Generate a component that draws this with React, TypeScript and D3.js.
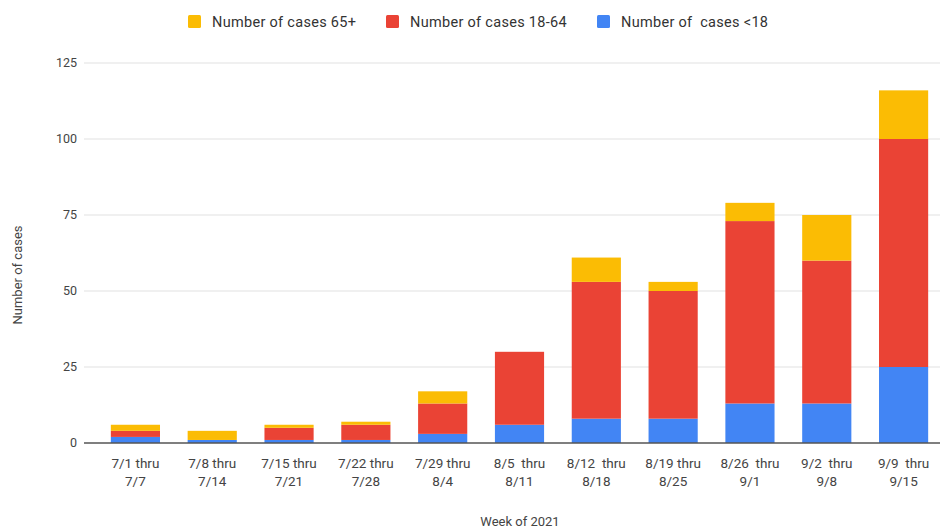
import React, { useEffect, useRef } from 'react';
import * as d3 from 'd3';

const weeks = ['7/1 thru|7/7', '7/8 thru|7/14', '7/15 thru|7/21', '7/22 thru|7/28', '7/29 thru|8/4',
    '8/5  thru|8/11', '8/12  thru|8/18', '8/19 thru|8/25', '8/26  thru|9/1', '9/2  thru|9/8', '9/9  thru|9/15'];
const under18 = [2, 1, 1, 1, 3, 6, 8, 8, 13, 13, 25];
const adults = [2, 0, 4, 5, 10, 24, 45, 42, 60, 47, 75];
const seniors = [2, 3, 1, 1, 4, 0, 8, 3, 6, 15, 16];
const yTicks = [0, 25, 50, 75, 100, 125];

const seriesKeys = ['under18', 'adults', 'seniors'];
const seriesColors = { under18: '#4285f4', adults: '#ea4335', seniors: '#fbbc04' };
const legendItems = [
    { key: 'seniors', label: 'Number of cases 65+', x: 188 },
    { key: 'adults', label: 'Number of cases 18-64', x: 386 },
    { key: 'under18', label: 'Number of  cases <18', x: 597 },
];

const width = 942;
const height = 531;
const font = 'Roboto, Arial, sans-serif';

const App = () => {
    const ref = useRef(null);

    useEffect(() => {
        document.body.style.margin = '0';
        const svg = d3.select(ref.current);
        svg.selectAll('*').remove();

        const rows = weeks.map((w, i) => ({ week: w, under18: under18[i], adults: adults[i], seniors: seniors[i] }));

        const x = d3.scaleBand().domain(weeks).range([97, 942]).paddingInner(0.36).paddingOuter(0.18);
        const y = d3.scaleLinear().domain([0, 125]).range([443, 63]);

        // gridlines
        svg.append('g')
            .selectAll('line')
            .data(yTicks.filter((t) => t > 0))
            .join('line')
            .attr('x1', 84).attr('x2', 940)
            .attr('y1', (d) => y(d)).attr('y2', (d) => y(d))
            .attr('stroke', '#e2e2e2').attr('stroke-width', 1.2);

        // y labels
        svg.append('g')
            .selectAll('text')
            .data(yTicks)
            .join('text')
            .attr('x', 77).attr('y', (d) => y(d))
            .attr('dy', '0.35em')
            .attr('text-anchor', 'end')
            .attr('font-family', font).attr('font-size', 12.5).attr('fill', '#444')
            .text((d) => d);

        // stacked bars
        const stacked = d3.stack().keys(seriesKeys)(rows);
        svg.append('g')
            .selectAll('g')
            .data(stacked)
            .join('g')
            .attr('fill', (d) => seriesColors[d.key])
            .selectAll('rect')
            .data((d) => d)
            .join('rect')
            .attr('x', (d) => x(d.data.week))
            .attr('width', x.bandwidth())
            .attr('y', (d) => y(d[1]))
            .attr('height', (d) => y(d[0]) - y(d[1]));

        // baseline
        svg.append('line')
            .attr('x1', 84).attr('x2', 940)
            .attr('y1', y(0)).attr('y2', y(0))
            .attr('stroke', '#555').attr('stroke-width', 1.5);

        // x labels
        const xl = svg.append('g')
            .selectAll('text')
            .data(weeks)
            .join('text')
            .attr('text-anchor', 'middle')
            .attr('font-family', font).attr('font-size', 13.5).attr('fill', '#444')
            .style('white-space', 'pre');
        xl.append('tspan')
            .attr('x', (d) => x(d) + x.bandwidth() / 2).attr('y', 468)
            .text((d) => d.split('|')[0]);
        xl.append('tspan')
            .attr('x', (d) => x(d) + x.bandwidth() / 2).attr('y', 486)
            .text((d) => d.split('|')[1]);

        // axis titles
        svg.append('text')
            .attr('x', 520).attr('y', 526)
            .attr('text-anchor', 'middle')
            .attr('font-family', font).attr('font-size', 13).attr('fill', '#444')
            .text('Week of 2021');
        svg.append('text')
            .attr('transform', 'translate(22, 275) rotate(-90)')
            .attr('text-anchor', 'middle')
            .attr('font-family', font).attr('font-size', 13).attr('fill', '#444')
            .text('Number of cases');

        // legend
        const lg = svg.append('g')
            .selectAll('g')
            .data(legendItems)
            .join('g')
            .attr('transform', (d) => `translate(${d.x}, 15)`);
        lg.append('rect')
            .attr('width', 13).attr('height', 13).attr('rx', 1.5)
            .attr('fill', (d) => seriesColors[d.key]);
        lg.append('text')
            .attr('x', 24).attr('y', 7).attr('dy', '0.35em')
            .attr('font-family', font).attr('font-size', 14.5).attr('fill', '#333')
            .attr('letter-spacing', 0.3)
            .style('white-space', 'pre')
            .text((d) => d.label);
    }, []);

    return <svg ref={ref} width={width} height={height} style={{ display: 'block', background: '#fff' }} />;
};

export default App;
